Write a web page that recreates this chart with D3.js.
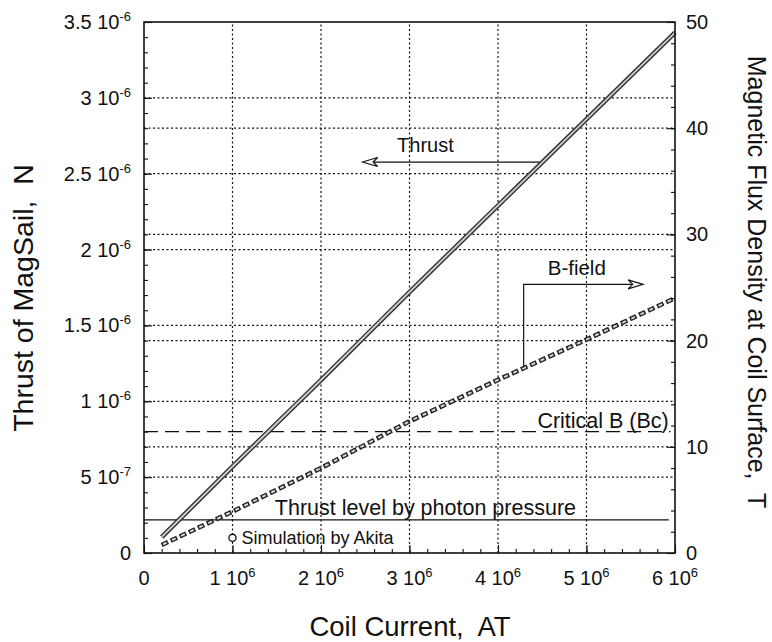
<!DOCTYPE html>
<html>
<head>
<meta charset="utf-8">
<script src="https://cdn.jsdelivr.net/npm/d3@7"></script>
<style>
  body { margin: 0; background: #fff; }
  text { font-family: "Liberation Sans", Arial, sans-serif; fill: #111; white-space: pre; }
</style>
</head>
<body>
<svg id="chart" width="772" height="642"></svg>
<script>
// coil current (AT) and the two curves
var current = [0.2e6, 1e6, 2e6, 3e6, 4e6, 5e6, 6e6];
var thrust = [0.105e-6, 0.57e-6, 1.14e-6, 1.72e-6, 2.29e-6, 2.86e-6, 3.43e-6];
var bField = [0.75, 3.9, 8.0, 12.4, 16.3, 20.1, 24.0];

var photonThrust = 0.218e-6;     // N
var photonEnd = 5.93e6;
var criticalB = 11.43;           // T
var criticalEnd = 5.95e6;
var akita = [1e6, 0.1e-6];

var xTicks = [0, 1e6, 2e6, 3e6, 4e6, 5e6, 6e6];
var xTickMant = ["0", "1 10", "2 10", "3 10", "4 10", "5 10", "6 10"];
var xTickExp = ["", "6", "6", "6", "6", "6", "6"];

var leftTicks = [0, 0.5e-6, 1e-6, 1.5e-6, 2e-6, 2.5e-6, 3e-6, 3.5e-6];
var leftTickMant = ["0", "5 10", "1 10", "1.5 10", "2 10", "2.5 10", "3 10", "3.5 10"];
var leftTickExp = ["", "-7", "-6", "-6", "-6", "-6", "-6", "-6"];

var rightTicks = [0, 10, 20, 30, 40, 50];

var width = 772, height = 642;
var margin = {top: 22, right: 97, bottom: 89, left: 144};

var svg = d3.select("#chart");

var x = d3.scaleLinear()
    .domain([0, 6e6])
    .range([margin.left, width - margin.right]);
var yL = d3.scaleLinear()
    .domain([0, 3.5e-6])
    .range([height - margin.bottom, margin.top]);
var yR = d3.scaleLinear()
    .domain([0, 50])
    .range([height - margin.bottom, margin.top]);

var x0 = x.range()[0], x1 = x.range()[1];
var y0 = yL.range()[0], y1 = yL.range()[1];

// dotted grid
var grid = svg.append("g")
    .attr("stroke", "#111")
    .attr("stroke-width", 1.2)
    .attr("stroke-dasharray", "2,2.5");

grid.selectAll(".vg")
    .data(xTicks.slice(1, -1))
    .enter().append("line")
    .attr("x1", function(d){ return x(d); })
    .attr("x2", function(d){ return x(d); })
    .attr("y1", y0).attr("y2", y1);

grid.selectAll(".hl")
    .data(leftTicks.slice(1, -1))
    .enter().append("line")
    .attr("x1", x0).attr("x2", x1)
    .attr("y1", function(d){ return yL(d); })
    .attr("y2", function(d){ return yL(d); });

grid.selectAll(".hr")
    .data(rightTicks.slice(1, -1))
    .enter().append("line")
    .attr("x1", x0).attr("x2", x1)
    .attr("y1", function(d){ return yR(d); })
    .attr("y2", function(d){ return yR(d); });

// reference lines
svg.append("line")
    .attr("x1", x(0)).attr("x2", x(photonEnd))
    .attr("y1", yL(photonThrust)).attr("y2", yL(photonThrust))
    .attr("stroke", "#111").attr("stroke-width", 1.3);

svg.append("line")
    .attr("x1", x(0)).attr("x2", x(criticalEnd))
    .attr("y1", yR(criticalB)).attr("y2", yR(criticalB))
    .attr("stroke", "#111").attr("stroke-width", 1.1)
    .attr("stroke-dasharray", "14,7");

// thrust curve, drawn as a double line
var thrustLine = d3.line()
    .x(function(d, i){ return x(current[i]); })
    .y(function(d){ return yL(d); });

svg.append("path")
    .attr("d", thrustLine(thrust))
    .attr("fill", "none").attr("stroke", "#2a2a2a").attr("stroke-width", 4.6);
svg.append("path")
    .attr("d", thrustLine(thrust))
    .attr("fill", "none").attr("stroke", "#c8c8c8").attr("stroke-width", 2);

// B-field curve, drawn as a chain of beads
var bLine = d3.line()
    .x(function(d, i){ return x(current[i]); })
    .y(function(d){ return yR(d); });

svg.append("path")
    .attr("d", bLine(bField))
    .attr("fill", "none").attr("stroke", "#222").attr("stroke-width", 4.6)
    .attr("stroke-dasharray", "7,3");
svg.append("path")
    .attr("d", bLine(bField))
    .attr("fill", "none").attr("stroke", "#d4d4d4").attr("stroke-width", 2)
    .attr("stroke-dasharray", "4,6").attr("stroke-dashoffset", -1.5);

// annotation arrows (open heads)
function openHead(tipX, tipY, dir) {
    var len = 15, half = 4.5;
    return "M" + tipX + "," + tipY +
        "L" + (tipX - dir * len) + "," + (tipY - half) +
        "L" + (tipX - dir * len * 0.7) + "," + tipY +
        "L" + (tipX - dir * len) + "," + (tipY + half) + "Z";
}

var thrustArrowY = 2.577e-6;
svg.append("line")
    .attr("x1", x(4.47e6)).attr("x2", x(2.5e6))
    .attr("y1", yL(thrustArrowY)).attr("y2", yL(thrustArrowY))
    .attr("stroke", "#111").attr("stroke-width", 1.2);
svg.append("path")
    .attr("d", openHead(x(2.47e6), yL(thrustArrowY), -1))
    .attr("fill", "#fff").attr("stroke", "#111").attr("stroke-width", 1.2);
svg.append("text")
    .attr("x", x(3.18e6)).attr("y", yL(2.64e-6))
    .attr("text-anchor", "middle").style("font-size", "20px")
    .text("Thrust");

svg.append("path")
    .attr("d", "M" + x(4.29e6) + "," + yR(17.5) +
               "L" + x(4.29e6) + "," + yR(25.3) +
               "L" + x(5.6e6) + "," + yR(25.3))
    .attr("fill", "none").attr("stroke", "#111").attr("stroke-width", 1.2);
svg.append("path")
    .attr("d", openHead(x(5.64e6), yR(25.3), 1))
    .attr("fill", "#fff").attr("stroke", "#111").attr("stroke-width", 1.2);
svg.append("text")
    .attr("x", x(4.89e6)).attr("y", yR(26.2))
    .attr("text-anchor", "middle").style("font-size", "20.5px")
    .text("B-field");

svg.append("text")
    .attr("x", x(5.93e6)).attr("y", yR(11.8))
    .attr("text-anchor", "end").style("font-size", "21.5px")
    .text("Critical B (Bc)");

svg.append("text")
    .attr("x", x(3.18e6)).attr("y", yL(0.25e-6))
    .attr("text-anchor", "middle").style("font-size", "21.5px")
    .text("Thrust level by photon pressure");

svg.append("circle")
    .attr("cx", x(akita[0])).attr("cy", yL(akita[1]))
    .attr("r", 3.6)
    .attr("fill", "#fff").attr("stroke", "#111").attr("stroke-width", 1.3);
svg.append("text")
    .attr("x", x(akita[0]) + 9).attr("y", yL(akita[1]) + 6)
    .style("font-size", "18px")
    .text("Simulation by Akita");

// ticks, pointing into the plot
function tickAxis(axis, tr) {
    var g = svg.append("g").attr("transform", tr).call(axis);
    g.select(".domain").remove();
    g.selectAll("line").attr("stroke", "#111").attr("stroke-width", 1.1);
    return g;
}

tickAxis(d3.axisBottom(x).tickValues(d3.range(0, 6.01e6, 2e5)).tickSize(-4).tickFormat(""),
    "translate(0," + y0 + ")");
tickAxis(d3.axisBottom(x).tickValues(xTicks).tickSize(-8).tickFormat(""),
    "translate(0," + y0 + ")");
tickAxis(d3.axisLeft(yL).tickValues(d3.range(0, 3.51e-6, 1e-7)).tickSize(-4).tickFormat(""),
    "translate(" + x0 + ",0)");
tickAxis(d3.axisLeft(yL).tickValues(leftTicks).tickSize(-8).tickFormat(""),
    "translate(" + x0 + ",0)");
tickAxis(d3.axisRight(yR).tickValues(d3.range(0, 50.1, 2)).tickSize(-4).tickFormat(""),
    "translate(" + x1 + ",0)");
tickAxis(d3.axisRight(yR).tickValues(rightTicks).tickSize(-8).tickFormat(""),
    "translate(" + x1 + ",0)");

// frame
svg.append("rect")
    .attr("x", x0).attr("y", y1)
    .attr("width", x1 - x0).attr("height", y0 - y1)
    .attr("fill", "none").attr("stroke", "#111").attr("stroke-width", 1.6);

// tick labels with powers of ten
function sciLabel(g, mant, exp) {
    g.text(mant);
    if (exp) {
        g.append("tspan")
            .attr("dy", -8)
            .style("font-size", "13px")
            .text(exp);
    }
}

svg.selectAll(".xlab")
    .data(xTicks)
    .enter().append("text")
    .attr("x", function(d){ return x(d); })
    .attr("y", y0 + 32)
    .attr("text-anchor", "middle")
    .style("font-size", "20px")
    .each(function(d, i){ sciLabel(d3.select(this), xTickMant[i], xTickExp[i]); });

svg.selectAll(".ylab")
    .data(leftTicks)
    .enter().append("text")
    .attr("x", x0 - 13)
    .attr("y", function(d){ return yL(d) + 7; })
    .attr("text-anchor", "end")
    .style("font-size", "20px")
    .each(function(d, i){ sciLabel(d3.select(this), leftTickMant[i], leftTickExp[i]); });

svg.selectAll(".rlab")
    .data(rightTicks)
    .enter().append("text")
    .attr("x", x1 + 11)
    .attr("y", function(d){ return yR(d) + 7; })
    .style("font-size", "20px")
    .text(function(d){ return d; });

// axis titles
svg.append("text")
    .attr("x", 410).attr("y", 636)
    .attr("text-anchor", "middle")
    .style("font-size", "27.5px")
    .text("Coil Current,  AT");

svg.append("text")
    .attr("transform", "translate(33,298) rotate(-90)")
    .attr("text-anchor", "middle")
    .style("font-size", "28.5px")
    .text("Thrust of MagSail,  N");

svg.append("text")
    .attr("transform", "translate(748,282) rotate(90)")
    .attr("text-anchor", "middle")
    .style("font-size", "25px")
    .text("Magnetic Flux Density at Coil Surface,  T");
</script>
</body>
</html>
